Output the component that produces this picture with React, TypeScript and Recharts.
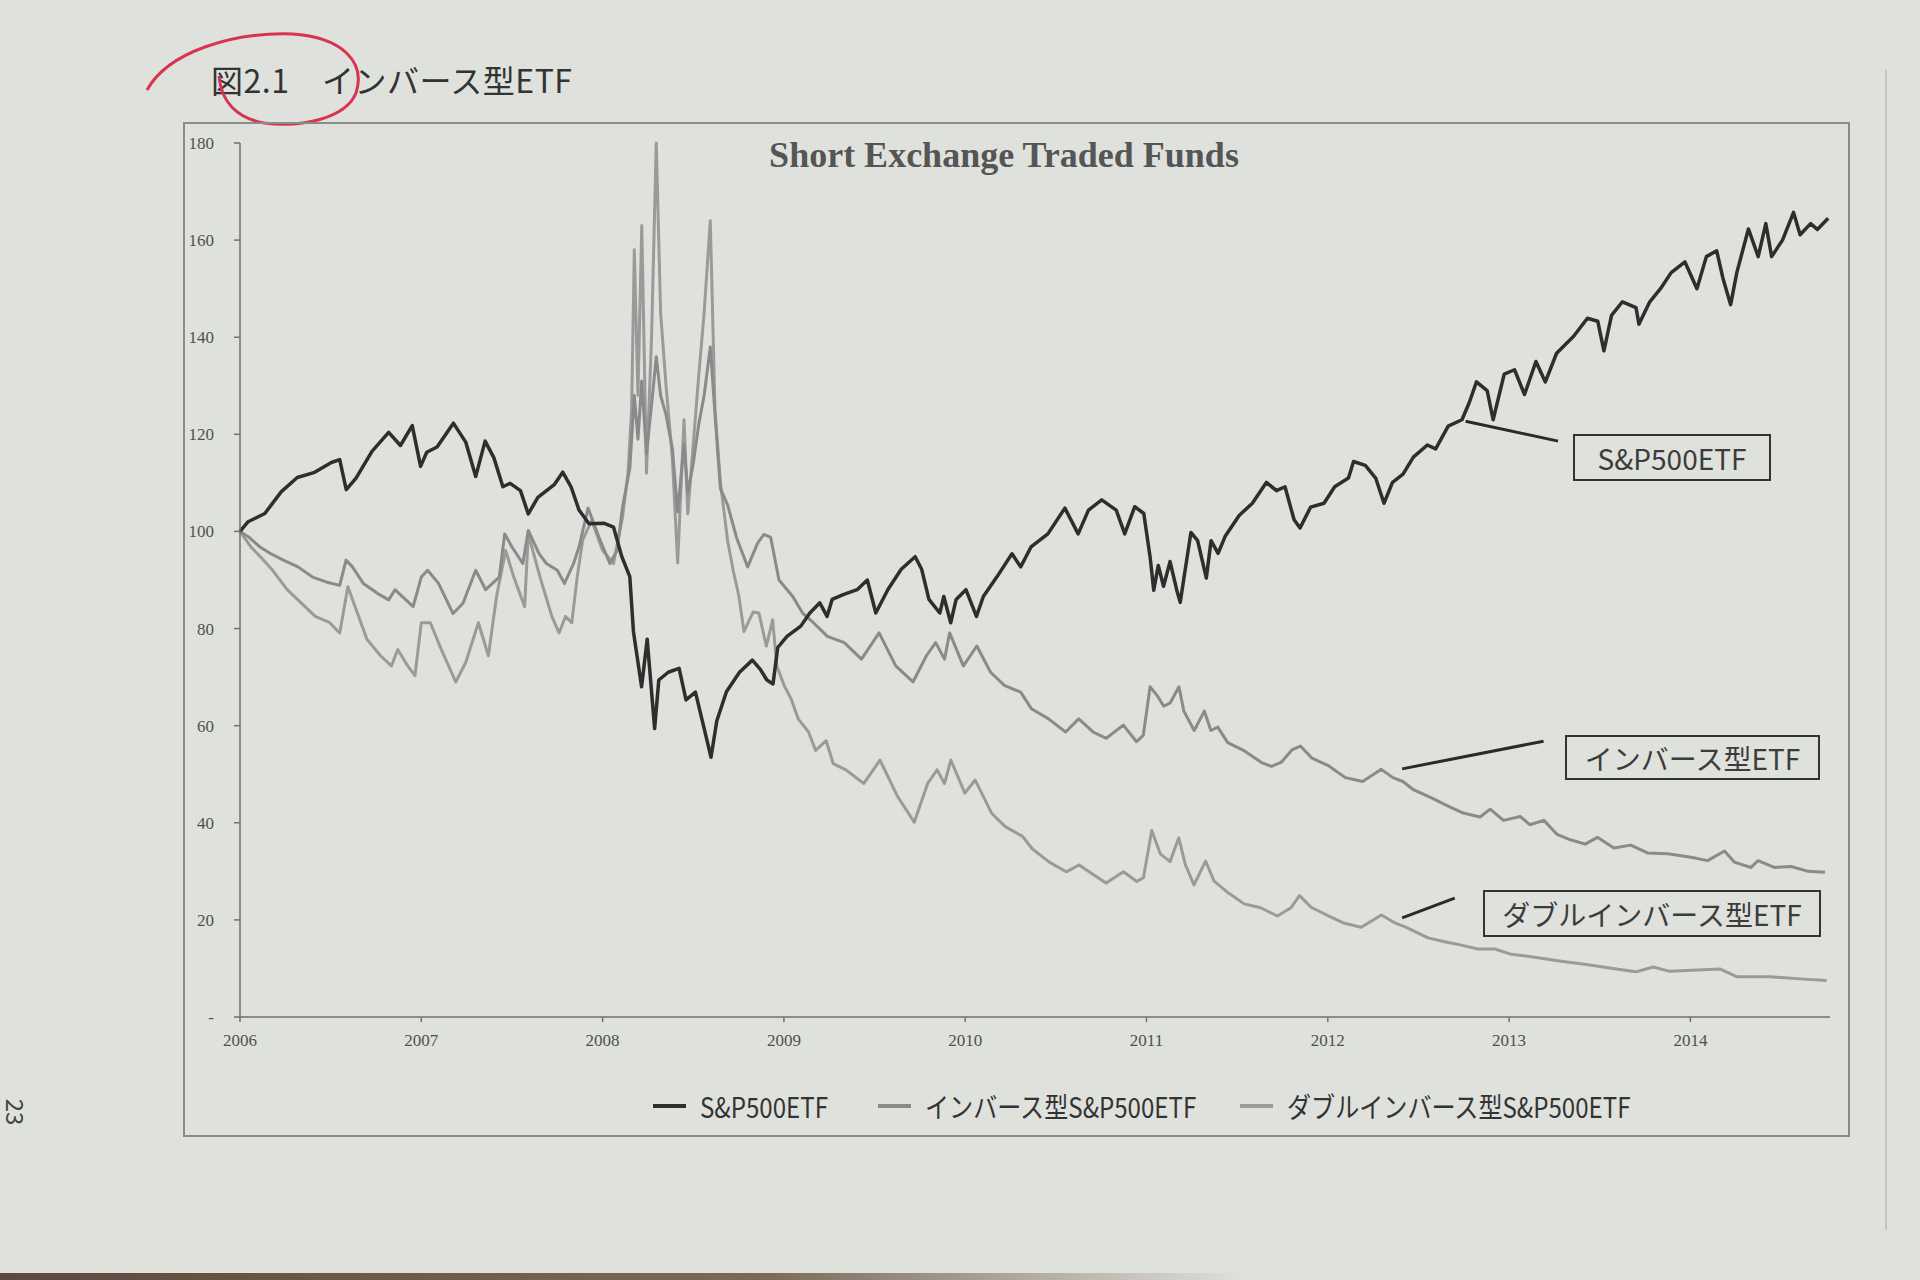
import { LineChart, Line, XAxis, YAxis, ReferenceLine } from "recharts";

// x = decimal year as drawn on the page, y = index (start = 100)
const YEARS = [2006, 2007, 2008, 2009, 2010, 2011, 2012, 2013, 2014];
const VALUE_TICKS = [0, 20, 40, 60, 80, 100, 120, 140, 160, 180];

const sp500: [number, number][] = [
  [2006.0, 100], [2006.045, 102.0], [2006.137, 103.7], [2006.228, 108.2], [2006.316, 111.1],
  [2006.407, 112.1], [2006.504, 114.2], [2006.55, 114.8], [2006.586, 108.6], [2006.64, 111.0],
  [2006.728, 116.5], [2006.82, 120.4], [2006.885, 117.7], [2006.95, 121.8], [2006.996, 113.4],
  [2007.03, 116.3], [2007.087, 117.4], [2007.177, 122.3], [2007.245, 118.4], [2007.3, 111.3],
  [2007.352, 118.6], [2007.4, 115.2], [2007.45, 109.2], [2007.49, 109.9], [2007.547, 108.4],
  [2007.59, 103.6], [2007.643, 107.0], [2007.735, 109.7], [2007.78, 112.2], [2007.826, 109.2],
  [2007.87, 104.4], [2007.925, 101.6], [2008.006, 101.7], [2008.06, 100.9], [2008.106, 94.8],
  [2008.15, 90.7], [2008.17, 79.4], [2008.215, 68.0], [2008.246, 77.8], [2008.287, 59.4],
  [2008.31, 69.4], [2008.362, 71.0], [2008.422, 71.8], [2008.46, 65.3], [2008.512, 66.9],
  [2008.555, 60.2], [2008.598, 53.5], [2008.63, 61.0], [2008.683, 67.0], [2008.755, 71.0],
  [2008.826, 73.5], [2008.87, 71.6], [2008.906, 69.4], [2008.94, 68.6], [2008.966, 76.1],
  [2009.017, 78.4], [2009.093, 80.5], [2009.143, 83.2], [2009.198, 85.3], [2009.238, 82.5],
  [2009.266, 86.0], [2009.327, 87.0], [2009.404, 88.0], [2009.46, 90.0], [2009.507, 83.2],
  [2009.573, 88.0], [2009.647, 92.2], [2009.724, 94.8], [2009.76, 92.2], [2009.8, 86.0],
  [2009.86, 83.2], [2009.882, 86.6], [2009.92, 81.2], [2009.95, 86.0], [2010.004, 88.0],
  [2010.062, 82.5], [2010.1, 86.6], [2010.174, 90.6], [2010.258, 95.4], [2010.306, 92.7],
  [2010.363, 96.8], [2010.456, 99.5], [2010.55, 104.8], [2010.623, 99.5], [2010.68, 104.4],
  [2010.753, 106.5], [2010.833, 104.4], [2010.88, 99.5], [2010.935, 105.1], [2010.985, 103.7],
  [2011.02, 94.7], [2011.04, 87.9], [2011.065, 93.0], [2011.094, 88.7], [2011.13, 93.8],
  [2011.167, 87.9], [2011.186, 85.4], [2011.245, 99.8], [2011.282, 98.1], [2011.33, 90.4],
  [2011.356, 98.1], [2011.395, 95.5], [2011.434, 99.0], [2011.511, 103.3], [2011.584, 105.8],
  [2011.661, 110.1], [2011.717, 108.4], [2011.764, 109.2], [2011.814, 102.4], [2011.847, 100.7],
  [2011.905, 105.0], [2011.979, 105.8], [2012.038, 109.2], [2012.114, 111.0], [2012.142, 114.4],
  [2012.207, 113.6], [2012.264, 111.0], [2012.31, 105.8], [2012.357, 110.1], [2012.415, 111.8],
  [2012.472, 115.3], [2012.549, 117.8], [2012.595, 117.0], [2012.664, 121.7], [2012.74, 123.0],
  [2012.78, 126.5], [2012.82, 130.8], [2012.879, 129.0], [2012.912, 123.0], [2012.973, 132.4],
  [2013.03, 133.3], [2013.085, 128.2], [2013.148, 135.0], [2013.2, 130.8], [2013.262, 136.7],
  [2013.356, 140.2], [2013.432, 143.9], [2013.489, 143.3], [2013.523, 137.2], [2013.565, 144.5],
  [2013.625, 147.3], [2013.7, 146.1], [2013.716, 142.7], [2013.776, 147.3], [2013.835, 150.0],
  [2013.894, 153.3], [2013.97, 155.5], [2014.036, 150.0], [2014.088, 156.6], [2014.145, 157.8],
  [2014.179, 152.2], [2014.222, 146.7], [2014.256, 153.3], [2014.32, 162.3], [2014.374, 156.6],
  [2014.416, 163.4], [2014.448, 156.6], [2014.508, 160.0], [2014.569, 165.7], [2014.605, 161.1],
  [2014.663, 163.4], [2014.7, 162.2], [2014.76, 164.5],
];

const inverse: [number, number][] = [
  [2006.0, 100], [2006.05, 98.8], [2006.11, 96.8], [2006.17, 95.4], [2006.245, 94.0],
  [2006.32, 92.7], [2006.4, 90.6], [2006.475, 89.6], [2006.55, 88.9], [2006.585, 94.1],
  [2006.62, 92.7], [2006.68, 89.3], [2006.76, 87.2], [2006.82, 85.9], [2006.855, 88.0],
  [2006.915, 85.9], [2006.955, 84.5], [2007.0, 90.6], [2007.035, 92.0], [2007.095, 89.3],
  [2007.175, 83.1], [2007.23, 85.2], [2007.3, 92.0], [2007.355, 88.0], [2007.43, 90.6],
  [2007.46, 99.5], [2007.5, 96.8], [2007.56, 93.4], [2007.59, 100.2], [2007.65, 95.4],
  [2007.69, 93.4], [2007.75, 92.0], [2007.79, 89.3], [2007.84, 93.4], [2007.87, 96.8],
  [2007.92, 104.8], [2007.98, 98.8], [2008.04, 93.4], [2008.08, 96.1], [2008.11, 105],
  [2008.15, 113], [2008.175, 128], [2008.195, 119], [2008.216, 131], [2008.242, 116],
  [2008.27, 126], [2008.296, 136], [2008.32, 128], [2008.35, 124], [2008.385, 117],
  [2008.414, 104], [2008.449, 118], [2008.47, 108], [2008.5, 114], [2008.53, 122],
  [2008.56, 128], [2008.594, 138], [2008.636, 115.7], [2008.65, 108.8], [2008.69, 105.4],
  [2008.74, 98.6], [2008.8, 92.7], [2008.855, 97.6], [2008.89, 99.4], [2008.927, 98.8],
  [2008.973, 90.0], [2009.049, 86.6], [2009.103, 83.2], [2009.163, 81.2], [2009.24, 78.4],
  [2009.333, 77.1], [2009.428, 73.7], [2009.525, 79.1], [2009.617, 72.3], [2009.712, 69.0],
  [2009.786, 74.4], [2009.837, 77.1], [2009.886, 73.7], [2009.914, 79.1], [2009.99, 72.3],
  [2010.064, 76.4], [2010.14, 71.0], [2010.216, 68.3], [2010.306, 66.9], [2010.365, 63.5],
  [2010.46, 61.4], [2010.554, 58.7], [2010.626, 61.4], [2010.705, 58.7], [2010.778, 57.4],
  [2010.872, 60.1], [2010.945, 56.7], [2010.982, 58.0], [2011.02, 68.0], [2011.057, 66.3],
  [2011.095, 64.0], [2011.131, 64.7], [2011.179, 68.0], [2011.206, 63.0], [2011.263, 59.0],
  [2011.319, 63.0], [2011.355, 59.0], [2011.393, 59.7], [2011.448, 56.5], [2011.541, 54.8],
  [2011.634, 52.4], [2011.689, 51.6], [2011.745, 52.5], [2011.802, 55.0], [2011.849, 55.8],
  [2011.913, 53.3], [2012.006, 51.7], [2012.097, 49.3], [2012.192, 48.5], [2012.295, 51.0],
  [2012.359, 49.3], [2012.414, 48.5], [2012.469, 46.9], [2012.563, 45.3], [2012.655, 43.6],
  [2012.747, 42.0], [2012.84, 41.2], [2012.896, 42.8], [2012.969, 40.5], [2013.061, 41.3],
  [2013.114, 39.6], [2013.192, 40.5], [2013.265, 37.6], [2013.338, 36.5], [2013.42, 35.6],
  [2013.487, 37.0], [2013.578, 34.8], [2013.671, 35.4], [2013.763, 33.8], [2013.874, 33.6],
  [2014.003, 32.9], [2014.095, 32.2], [2014.188, 34.2], [2014.242, 31.9], [2014.334, 30.8],
  [2014.373, 32.2], [2014.463, 30.8], [2014.556, 31.0], [2014.65, 30.0], [2014.742, 29.8],
];

const doubleInverse: [number, number][] = [
  [2006.0, 100], [2006.06, 96.8], [2006.115, 94.7], [2006.18, 92.0], [2006.26, 88.0],
  [2006.34, 85.2], [2006.415, 82.5], [2006.495, 81.2], [2006.55, 79.1], [2006.595, 88.6],
  [2006.635, 84.5], [2006.7, 77.8], [2006.775, 74.4], [2006.835, 72.3], [2006.87, 75.7],
  [2006.925, 72.3], [2006.965, 70.3], [2007.0, 81.2], [2007.05, 81.2], [2007.11, 75.7],
  [2007.19, 69.0], [2007.245, 73.0], [2007.315, 81.2], [2007.37, 74.4], [2007.415, 86.6],
  [2007.465, 96.1], [2007.51, 90.6], [2007.57, 84.5], [2007.59, 99.5], [2007.655, 90.6],
  [2007.72, 82.5], [2007.76, 79.1], [2007.795, 82.5], [2007.83, 81.2], [2007.86, 90.6],
  [2007.89, 98.2], [2007.94, 102.3], [2008.0, 96.1], [2008.06, 93.4], [2008.11, 103.0],
  [2008.14, 112], [2008.16, 125], [2008.175, 158], [2008.195, 128], [2008.216, 163],
  [2008.242, 112], [2008.27, 140], [2008.296, 180], [2008.32, 145], [2008.35, 130],
  [2008.385, 115], [2008.414, 93.5], [2008.449, 123], [2008.47, 103.6], [2008.5, 118],
  [2008.53, 132], [2008.56, 145], [2008.594, 164], [2008.62, 125], [2008.65, 110],
  [2008.69, 98], [2008.72, 92], [2008.75, 87], [2008.78, 79.4], [2008.83, 83.4],
  [2008.862, 83.2], [2008.903, 76.4], [2008.938, 81.8], [2008.961, 72.3], [2009.001, 68.3],
  [2009.04, 65.5], [2009.079, 61.4], [2009.136, 58.7], [2009.175, 54.9], [2009.233, 56.9],
  [2009.272, 52.2], [2009.342, 50.9], [2009.441, 48.1], [2009.53, 52.9], [2009.626, 45.5],
  [2009.719, 40.1], [2009.793, 48.1], [2009.845, 50.9], [2009.886, 48.1], [2009.921, 52.9],
  [2009.998, 46.1], [2010.055, 48.8], [2010.147, 41.9], [2010.221, 39.2], [2010.316, 37.2],
  [2010.371, 34.6], [2010.464, 31.9], [2010.557, 29.9], [2010.628, 31.3], [2010.708, 29.3],
  [2010.777, 27.6], [2010.873, 29.9], [2010.947, 27.9], [2010.983, 28.7], [2011.029, 38.4],
  [2011.076, 33.6], [2011.13, 32.0], [2011.178, 36.9], [2011.215, 31.3], [2011.262, 27.2],
  [2011.326, 32.1], [2011.373, 28.0], [2011.446, 25.7], [2011.539, 23.3], [2011.63, 22.5],
  [2011.722, 20.8], [2011.797, 22.5], [2011.844, 25.0], [2011.908, 22.6], [2012.0, 20.9],
  [2012.092, 19.3], [2012.184, 18.5], [2012.296, 21.0], [2012.369, 19.4], [2012.424, 18.6],
  [2012.553, 16.3], [2012.644, 15.5], [2012.736, 14.8], [2012.828, 14.0], [2012.921, 14.0],
  [2013.012, 12.9], [2013.104, 12.5], [2013.287, 11.5], [2013.426, 10.8], [2013.61, 9.8],
  [2013.7, 9.3], [2013.795, 10.3], [2013.886, 9.4], [2014.162, 9.9], [2014.255, 8.3],
  [2014.44, 8.3], [2014.624, 7.8], [2014.752, 7.5],
];

const SERIES = [
  { key: "sp", name: "S&P500ETF", points: sp500, color: "#2e2e2e", width: 3.5 },
  { key: "inv", name: "インバース型S&P500ETF", points: inverse, color: "#8a8a8a", width: 3 },
  { key: "dbl", name: "ダブルインバース型S&P500ETF", points: doubleInverse, color: "#9a9a9a", width: 3 },
];

// legend item left edges on the page
const LEGEND_X = [653, 878, 1240];

// callouts: leader line ends in data units, box in page pixels
const CALLOUTS = [
  { label: "S&P500ETF", from: [2012.76, 122.7], to: [2013.27, 118.6], box: { left: 1573, top: 434, width: 198, height: 47 } },
  { label: "インバース型ETF", from: [2012.41, 51.1], to: [2013.19, 56.8], box: { left: 1565, top: 735, width: 255, height: 45 } },
  { label: "ダブルインバース型ETF", from: [2012.41, 20.4], to: [2012.7, 24.5], box: { left: 1483, top: 890, width: 338, height: 47 } },
];

const PAPER = "#dfe1dc";
const SANS = "'Noto Sans CJK JP', 'Noto Sans', sans-serif";
const SERIF = "'Liberation Serif', 'DejaVu Serif', serif";

export default function App() {
  const drawOrder = [SERIES[2], SERIES[1], SERIES[0]];
  return (
    <div style={{ position: "absolute", left: 0, top: 0, width: 1920, height: 1280, background: PAPER, overflow: "hidden" }}>
      {/* page edge on the right */}
      <div style={{ position: "absolute", left: 1885, top: 70, width: 2, height: 1160, background: "#c4c6c1" }} />
      {/* dark strip at the bottom of the photo */}
      <div style={{ position: "absolute", left: 0, top: 1273, width: 1920, height: 7, background: "linear-gradient(90deg, #5a4b3e 0%, #7a6a5a 40%, rgba(0,0,0,0) 65%)" }} />

      <div style={{ position: "absolute", left: 211, top: 56, fontFamily: SANS, fontSize: 32, color: "#333", whiteSpace: "pre", letterSpacing: 0.5 }}>
        {"図2.1　インバース型ETF"}
      </div>
      <svg width={420} height={160} style={{ position: "absolute", left: 0, top: 0 }}>
        <path
          d="M147,90 C168,52 232,32 292,34 C342,37 366,62 356,93 C346,118 302,128 264,123 C236,118 221,101 219,76"
          fill="none"
          stroke="#d8344f"
          strokeWidth={3}
        />
      </svg>

      <div style={{ position: "absolute", left: 183, top: 122, width: 1667, height: 1015, border: "2px solid #8a8c88", boxSizing: "border-box" }} />

      <div style={{ position: "absolute", left: 1004, top: 134, transform: "translateX(-50%)", fontFamily: SERIF, fontWeight: "bold", fontSize: 36, color: "#555", whiteSpace: "nowrap" }}>
        Short Exchange Traded Funds
      </div>

      <div style={{ position: "absolute", left: 0, top: 0 }}>
        <LineChart width={1920} height={1280} margin={{ top: 143, right: 90, bottom: 233, left: 180 }}>
          <XAxis
            type="number"
            dataKey="t"
            domain={[2006, 2014.77]}
            ticks={YEARS}
            allowDuplicatedCategory={false}
            axisLine={{ stroke: "#6f716d", strokeWidth: 1.5 }}
            tickLine={{ stroke: "#6f716d", strokeWidth: 1.5 }}
            tickSize={5}
            tickMargin={12}
            tick={{ fontFamily: SERIF, fontSize: 17, fill: "#505050" }}
          />
          <YAxis
            type="number"
            domain={[0, 180]}
            ticks={VALUE_TICKS}
            width={60}
            tickFormatter={(v: number) => (v === 0 ? "-" : String(v))}
            axisLine={{ stroke: "#6f716d", strokeWidth: 1.5 }}
            tickLine={{ stroke: "#6f716d", strokeWidth: 1.5 }}
            tickSize={6}
            tickMargin={20}
            tick={{ fontFamily: SERIF, fontSize: 17, fill: "#505050" }}
          />
          {drawOrder.map((s) => (
            <Line
              key={s.key}
              data={s.points.map(([t, v]) => ({ t, v }))}
              dataKey="v"
              name={s.name}
              type="linear"
              stroke={s.color}
              strokeWidth={s.width}
              strokeLinejoin="round"
              dot={false}
              activeDot={false}
              isAnimationActive={false}
            />
          ))}
          {CALLOUTS.map((c) => (
            <ReferenceLine
              key={c.label}
              segment={[
                { x: c.from[0], y: c.from[1] },
                { x: c.to[0], y: c.to[1] },
              ]}
              stroke="#2a2a2a"
              strokeWidth={3}
            />
          ))}
        </LineChart>
      </div>

      {CALLOUTS.map((c) => (
        <div
          key={c.label}
          style={{
            position: "absolute",
            ...c.box,
            border: "2.5px solid #333",
            boxSizing: "border-box",
            display: "flex",
            alignItems: "center",
            justifyContent: "center",
            fontFamily: SANS,
            fontSize: 28,
            color: "#3c3c3c",
            whiteSpace: "nowrap",
          }}
        >
          {c.label}
        </div>
      ))}

      {/* legend */}
      {SERIES.map((s, i) => (
        <div key={s.key} style={{ position: "absolute", left: LEGEND_X[i], top: 1086, height: 40, display: "flex", alignItems: "center", fontFamily: SANS, fontSize: 28, color: "#333", whiteSpace: "nowrap" }}>
          <div style={{ width: 33, height: 3.5, background: s.color, marginRight: 14 }} />
          <span style={{ display: "inline-block", transform: "scaleX(0.86)", transformOrigin: "left center" }}>{s.name}</span>
        </div>
      ))}

      <div style={{ position: "absolute", left: 2, top: 1092, width: 30, height: 40, display: "flex", alignItems: "center", justifyContent: "center", transform: "rotate(90deg)", fontFamily: SANS, fontSize: 24, color: "#444" }}>
        23
      </div>
    </div>
  );
}
